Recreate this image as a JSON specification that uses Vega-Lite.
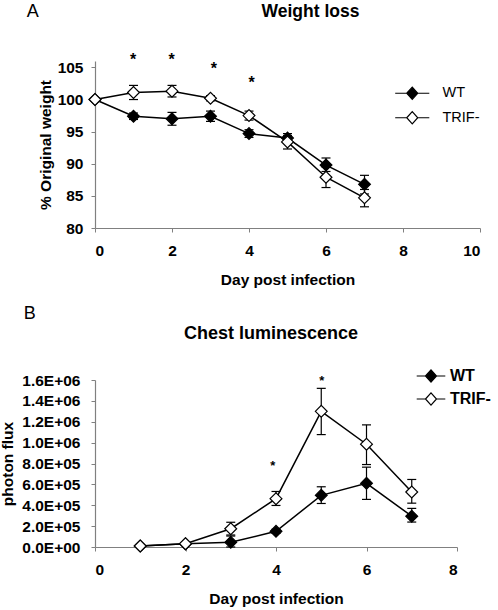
{
  "$schema": "https://vega.github.io/schema/vega-lite/v6.json",
  "padding": {"left": 0, "top": 2, "right": 0, "bottom": 0},
  "background": "white",
  "config": {
    "font": "Liberation Sans",
    "view": {"stroke": null},
    "axis": {
      "domainColor": "#808080", "tickColor": "#808080", "tickSize": 4, "grid": false,
      "labelFont": "Liberation Sans", "labelFontWeight": "bold", "labelFontSize": 15.5, "labelColor": "black",
      "titleFont": "Liberation Sans", "titleFontSize": 15.5, "titleFontWeight": "bold", "titleColor": "black",
      "domainWidth": 1.2, "labelOverlap": false
    },
    "axisX": {"labelPadding": 11, "titlePadding": 13.5},
    "axisY": {"labelPadding": 8},
    "title": {"font": "Liberation Sans", "fontSize": 17.5, "fontWeight": "bold", "color": "black", "anchor": "middle", "frame": "group"},
    "legend": {"labelFont": "Liberation Sans", "labelColor": "black", "symbolStrokeColor": "black", "symbolStrokeWidth": 1.2, "symbolOpacity": 1}
  },
  "datasets": {
    "weight": [
      {"day": 0, "group": "WT", "mean": 100, "lo": null, "hi": null},
      {"day": 1, "group": "WT", "mean": 97.4, "lo": 96.9, "hi": 97.9},
      {"day": 2, "group": "WT", "mean": 97.0, "lo": 96.0, "hi": 98.0},
      {"day": 3, "group": "WT", "mean": 97.4, "lo": 96.6, "hi": 98.2},
      {"day": 4, "group": "WT", "mean": 94.7, "lo": 94.1, "hi": 95.3},
      {"day": 5, "group": "WT", "mean": 94.0, "lo": 93.3, "hi": 94.7},
      {"day": 6, "group": "WT", "mean": 89.8, "lo": 88.8, "hi": 90.9},
      {"day": 7, "group": "WT", "mean": 86.8, "lo": 85.3, "hi": 88.2},
      {"day": 0, "group": "TRIF-", "mean": 100, "lo": null, "hi": null},
      {"day": 1, "group": "TRIF-", "mean": 101.1, "lo": 100.0, "hi": 102.2},
      {"day": 2, "group": "TRIF-", "mean": 101.3, "lo": 100.4, "hi": 102.2},
      {"day": 3, "group": "TRIF-", "mean": 100.2, "lo": 99.8, "hi": 100.6},
      {"day": 4, "group": "TRIF-", "mean": 97.5, "lo": 96.8, "hi": 98.2},
      {"day": 5, "group": "TRIF-", "mean": 93.4, "lo": 92.3, "hi": 94.4},
      {"day": 6, "group": "TRIF-", "mean": 87.9, "lo": 86.3, "hi": 89.5},
      {"day": 7, "group": "TRIF-", "mean": 84.7, "lo": 83.3, "hi": 86.0}
    ],
    "lum": [
      {"day": 1, "group": "WT", "mean": 10000, "lo": null, "hi": null},
      {"day": 2, "group": "WT", "mean": 30000, "lo": null, "hi": null},
      {"day": 3, "group": "WT", "mean": 45000, "lo": 0, "hi": 105000},
      {"day": 4, "group": "WT", "mean": 150000, "lo": 130000, "hi": 170000},
      {"day": 5, "group": "WT", "mean": 495000, "lo": 417000, "hi": 577000},
      {"day": 6, "group": "WT", "mean": 610000, "lo": 456000, "hi": 765000},
      {"day": 7, "group": "WT", "mean": 295000, "lo": 239000, "hi": 370000},
      {"day": 1, "group": "TRIF-", "mean": 10000, "lo": null, "hi": null},
      {"day": 2, "group": "TRIF-", "mean": 32000, "lo": null, "hi": null},
      {"day": 3, "group": "TRIF-", "mean": 175000, "lo": 115000, "hi": 237000},
      {"day": 4, "group": "TRIF-", "mean": 463000, "lo": 398000, "hi": 532000},
      {"day": 5, "group": "TRIF-", "mean": 1300000, "lo": 1077000, "hi": 1520000},
      {"day": 6, "group": "TRIF-", "mean": 985000, "lo": 790000, "hi": 1170000},
      {"day": 7, "group": "TRIF-", "mean": 527000, "lo": 420000, "hi": 647000}
    ],
    "starsA": [
      {"day": 0.99, "value": 106.35},
      {"day": 1.99, "value": 106.35},
      {"day": 3.09, "value": 104.85},
      {"day": 4.07, "value": 102.75}
    ],
    "starsB": [
      {"day": 3.93, "value": 808000},
      {"day": 5.01, "value": 1620000}
    ],
    "panelA": [{"label": "A", "day": -1.62, "value": 112.9}],
    "panelB": [{"label": "B", "day": -1.44, "value": 2180000}]
  },
  "bounds": "flush",
  "spacing": 152,
  "resolve": {
    "scale": {"x": "independent", "y": "independent", "fill": "independent"},
    "legend": {"fill": "independent"}
  },
  "vconcat": [
    {
      "width": 385,
      "height": 167,
      "title": {"text": "Weight loss", "dx": 23, "offset": -17.5},
      "layer": [
        {
          "data": {"name": "weight"},
          "mark": {"type": "line", "color": "black", "strokeWidth": 1.5},
          "encoding": {
            "x": {"field": "day", "type": "quantitative", "title": "Day post infection",
                  "scale": {"domain": [0, 10]}, "axis": {"values": [0, 2, 4, 6, 8, 10], "labelOverlap": false}},
            "y": {"field": "mean", "type": "quantitative", "title": "% Original weight",
                  "scale": {"domain": [80, 105]}, "axis": {"values": [80, 85, 90, 95, 100, 105], "tickCount": 6, "labelOverlap": false, "titlePadding": 4}},
            "detail": {"field": "group"}
          }
        },
        {
          "data": {"name": "weight"},
          "mark": {"type": "rule", "color": "black", "strokeWidth": 1.2},
          "encoding": {
            "x": {"field": "day", "type": "quantitative", "title": "Day post infection"},
            "y": {"field": "lo", "type": "quantitative", "title": "% Original weight"},
            "y2": {"field": "hi"}
          }
        },
        {
          "data": {"name": "weight"},
          "mark": {"type": "tick", "orient": "horizontal", "color": "black", "size": 9, "thickness": 1.2, "opacity": 1},
          "encoding": {
            "x": {"field": "day", "type": "quantitative", "title": "Day post infection"},
            "y": {"field": "lo", "type": "quantitative", "title": "% Original weight"}
          }
        },
        {
          "data": {"name": "weight"},
          "mark": {"type": "tick", "orient": "horizontal", "color": "black", "size": 9, "thickness": 1.2, "opacity": 1},
          "encoding": {
            "x": {"field": "day", "type": "quantitative", "title": "Day post infection"},
            "y": {"field": "hi", "type": "quantitative", "title": "% Original weight"}
          }
        },
        {
          "data": {"name": "weight"},
          "mark": {"type": "point", "shape": "diamond", "filled": true, "size": 140, "stroke": "black", "strokeWidth": 1.2, "opacity": 1},
          "encoding": {
            "x": {"field": "day", "type": "quantitative", "title": "Day post infection"},
            "y": {"field": "mean", "type": "quantitative", "title": "% Original weight"},
            "fill": {
              "field": "group", "type": "nominal",
              "scale": {"domain": ["WT", "TRIF-"], "range": ["black", "white"]},
              "legend": {
                "title": null, "orient": "none", "legendX": 310, "legendY": 25,
                "symbolType": "M-3.1,0L-1,0M1,0L3.1,0M-1,0L0,-1.1L1,0L0,1.1Z",
                "symbolSize": 121, "labelFontSize": 14.5, "labelOffset": 23, "rowPadding": 6.5,
                "encode": {"symbols": {"update": {"stroke": {"value": "black"}, "strokeWidth": {"value": 1.2}, "opacity": {"value": 1}}}}
              }
            }
          }
        },
        {
          "data": {"name": "starsA"},
          "mark": {"type": "text", "text": "*", "font": "Liberation Sans", "fontSize": 16, "fontWeight": "bold", "baseline": "alphabetic", "dy": 6, "color": "black"},
          "encoding": {
            "x": {"field": "day", "type": "quantitative", "title": "Day post infection"},
            "y": {"field": "value", "type": "quantitative", "title": "% Original weight"}
          }
        },
        {
          "data": {"name": "panelA"},
          "mark": {"type": "text", "font": "Liberation Sans", "fontSize": 18, "baseline": "alphabetic", "align": "center", "color": "black"},
          "encoding": {
            "x": {"field": "day", "type": "quantitative", "title": "Day post infection"},
            "y": {"field": "value", "type": "quantitative", "title": "% Original weight"},
            "text": {"field": "label"}
          }
        }
      ]
    },
    {
      "width": 362,
      "height": 167,
      "title": {"text": "Chest luminescence", "fontSize": 18, "dx": -5, "offset": -37.5},
      "layer": [
        {
          "data": {"name": "lum"},
          "mark": {"type": "line", "color": "black", "strokeWidth": 1.5},
          "encoding": {
            "x": {"field": "day", "type": "quantitative", "title": "Day post infection",
                  "scale": {"domain": [0, 8]}, "axis": {"values": [0, 2, 4, 6, 8], "labelOverlap": false}},
            "y": {"field": "mean", "type": "quantitative", "title": "photon flux",
                  "scale": {"domain": [0, 1600000]},
                  "axis": {"values": [0, 200000, 400000, 600000, 800000, 1000000, 1200000, 1400000, 1600000],
                           "tickCount": 9, "labelOverlap": false, "labelPadding": 11,
                           "labelExpr": "replace(format(datum.value, '.1e'), 'e+', 'E+0')", "titlePadding": 6}},
            "detail": {"field": "group"}
          }
        },
        {
          "data": {"name": "lum"},
          "mark": {"type": "rule", "color": "black", "strokeWidth": 1.2},
          "encoding": {
            "x": {"field": "day", "type": "quantitative", "title": "Day post infection"},
            "y": {"field": "lo", "type": "quantitative", "title": "photon flux"},
            "y2": {"field": "hi"}
          }
        },
        {
          "data": {"name": "lum"},
          "mark": {"type": "tick", "orient": "horizontal", "color": "black", "size": 9, "thickness": 1.2, "opacity": 1},
          "encoding": {
            "x": {"field": "day", "type": "quantitative", "title": "Day post infection"},
            "y": {"field": "lo", "type": "quantitative", "title": "photon flux"}
          }
        },
        {
          "data": {"name": "lum"},
          "mark": {"type": "tick", "orient": "horizontal", "color": "black", "size": 9, "thickness": 1.2, "opacity": 1},
          "encoding": {
            "x": {"field": "day", "type": "quantitative", "title": "Day post infection"},
            "y": {"field": "hi", "type": "quantitative", "title": "photon flux"}
          }
        },
        {
          "data": {"name": "lum"},
          "mark": {"type": "point", "shape": "diamond", "filled": true, "size": 140, "stroke": "black", "strokeWidth": 1.2, "opacity": 1},
          "encoding": {
            "x": {"field": "day", "type": "quantitative", "title": "Day post infection"},
            "y": {"field": "mean", "type": "quantitative", "title": "photon flux"},
            "fill": {
              "field": "group", "type": "nominal",
              "scale": {"domain": ["WT", "TRIF-"], "range": ["black", "white"]},
              "legend": {
                "title": null, "orient": "none", "legendX": 328, "legendY": -12,
                "symbolType": "M-2.6,0L-1,0M1,0L2.6,0M-1,0L0,-1.1L1,0L0,1.1Z",
                "symbolSize": 121, "labelFontSize": 16, "labelFontWeight": "bold", "labelOffset": 11, "rowPadding": 5,
                "encode": {"symbols": {"update": {"stroke": {"value": "black"}, "strokeWidth": {"value": 1.2}, "opacity": {"value": 1}}}}
              }
            }
          }
        },
        {
          "data": {"name": "starsB"},
          "mark": {"type": "text", "text": "*", "font": "Liberation Sans", "fontSize": 13, "fontWeight": "bold", "baseline": "alphabetic", "dy": 7, "color": "black"},
          "encoding": {
            "x": {"field": "day", "type": "quantitative", "title": "Day post infection"},
            "y": {"field": "value", "type": "quantitative", "title": "photon flux"}
          }
        },
        {
          "data": {"name": "panelB"},
          "mark": {"type": "text", "font": "Liberation Sans", "fontSize": 18, "baseline": "alphabetic", "align": "center", "color": "black"},
          "encoding": {
            "x": {"field": "day", "type": "quantitative", "title": "Day post infection"},
            "y": {"field": "value", "type": "quantitative", "title": "photon flux"},
            "text": {"field": "label"}
          }
        }
      ]
    }
  ]
}
